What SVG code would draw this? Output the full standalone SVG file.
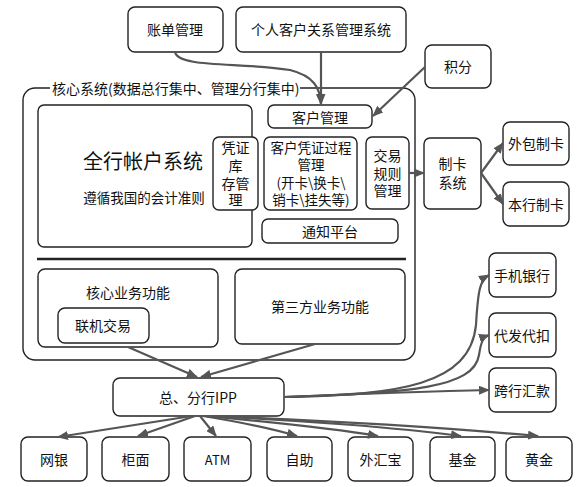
<svg xmlns="http://www.w3.org/2000/svg" width="587" height="487" viewBox="0 0 587 487">
<style>
.b{fill:#fff;stroke:#222;stroke-width:1.4}
.t{font-family:"Noto Sans CJK SC","Noto Sans",sans-serif;font-size:14px;fill:#111;text-anchor:middle;dominant-baseline:central}
.c{fill:none;stroke:#555;stroke-width:2.2;marker-end:url(#ah)}
</style>
<defs>
<marker id="ah" markerUnits="userSpaceOnUse" markerWidth="11" markerHeight="9" refX="10" refY="4.5" orient="auto">
<path d="M0,0 L11,4.5 L0,9 z" fill="#555"/>
</marker>
</defs>
<rect width="587" height="487" fill="#fff"/>

<g id="core">
<rect class="b" x="23" y="88" width="392" height="272" rx="12"/>
<rect x="50" y="80" width="250" height="16" fill="#fff"/>
<text class="t" x="52" y="88" style="text-anchor:start">核心系统(数据总行集中、管理分行集中)</text>
<line x1="37" y1="259" x2="406" y2="259" stroke="#222" stroke-width="2.6"/>
</g>

<g id="zhangdan"><rect class="b" x="128" y="7" width="95" height="45" rx="7"/><text class="t" x="175" y="29">账单管理</text></g>
<g id="crm"><rect class="b" x="236" y="7" width="170" height="45" rx="7"/><text class="t" x="321" y="29">个人客户关系管理系统</text></g>
<g id="jifen"><rect class="b" x="425" y="45" width="66" height="43" rx="7"/><text class="t" x="458" y="66">积分</text></g>

<g id="quanhang"><rect class="b" x="38" y="105" width="214" height="142" rx="6"/>
<text class="t" x="143" y="160" style="font-size:20px">全行帐户系统</text>
<text class="t" x="144" y="197" style="font-size:13.5px">遵循我国的会计准则</text></g>

<g id="kehuguanli"><rect class="b" x="268" y="105" width="104" height="23" rx="6"/><text class="t" x="320" y="116.5">客户管理</text></g>

<g id="pingzheng"><rect class="b" x="213" y="137" width="45" height="73" rx="6"/>
<text class="t" x="235.5" y="147">凭证</text><text class="t" x="235.5" y="165">库</text><text class="t" x="235.5" y="183">存管</text><text class="t" x="235.5" y="199">理</text></g>

<g id="guocheng"><rect class="b" x="264" y="137" width="93" height="73" rx="6"/>
<text class="t" x="311" y="147" style="font-size:13.5px">客户凭证过程</text><text class="t" x="311" y="164" style="font-size:13.5px">管理</text><text class="t" x="311" y="182" style="font-size:13.5px">(开卡\换卡\</text><text class="t" x="311" y="199" style="font-size:13.5px">销卡\挂失等)</text></g>

<g id="jiaoyi"><rect class="b" x="366" y="137" width="43" height="72" rx="6"/>
<text class="t" x="387.5" y="155">交易</text><text class="t" x="387.5" y="173">规则</text><text class="t" x="387.5" y="190">管理</text></g>

<g id="tongzhi"><rect class="b" x="262" y="219" width="136" height="24" rx="6"/><text class="t" x="330" y="231">通知平台</text></g>

<g id="zhika"><rect class="b" x="424" y="138" width="57" height="71" rx="6"/>
<text class="t" x="452.5" y="163">制卡</text><text class="t" x="452.5" y="182">系统</text></g>
<g id="waibao"><rect class="b" x="503" y="122" width="66" height="43" rx="7"/><text class="t" x="536" y="143">外包制卡</text></g>
<g id="benhang"><rect class="b" x="503" y="182" width="66" height="44" rx="7"/><text class="t" x="536" y="204">本行制卡</text></g>

<g id="hexin"><rect class="b" x="38" y="269" width="180" height="78" rx="7"/><text class="t" x="128" y="292">核心业务功能</text></g>
<g id="lianji"><rect class="b" x="58" y="308" width="91" height="35" rx="7"/><text class="t" x="103" y="325">联机交易</text></g>
<g id="disanfang"><rect class="b" x="235" y="269" width="170" height="75" rx="7"/><text class="t" x="320" y="306">第三方业务功能</text></g>

<g id="ipp"><rect class="b" x="113" y="378" width="171" height="38" rx="7"/><text class="t" x="198" y="397">总、分行IPP</text></g>

<g id="shouji"><rect class="b" x="489" y="253" width="67" height="44" rx="7"/><text class="t" x="522" y="275">手机银行</text></g>
<g id="daifa"><rect class="b" x="489" y="313" width="67" height="44" rx="7"/><text class="t" x="522" y="335">代发代扣</text></g>
<g id="kuahang"><rect class="b" x="489" y="368" width="67" height="44" rx="7"/><text class="t" x="522" y="390">跨行汇款</text></g>

<g id="wangyin"><rect class="b" x="21" y="437" width="66" height="44" rx="7"/><text class="t" x="54" y="459">网银</text></g>
<g id="guimian"><rect class="b" x="102" y="437" width="67" height="44" rx="7"/><text class="t" x="135.5" y="459">柜面</text></g>
<g id="atm"><rect class="b" x="184" y="437" width="67" height="44" rx="7"/><text class="t" x="217.5" y="459" style="font-size:13px">ATM</text></g>
<g id="zizhu"><rect class="b" x="267" y="437" width="65" height="44" rx="7"/><text class="t" x="299.5" y="459">自助</text></g>
<g id="waihui"><rect class="b" x="348" y="437" width="65" height="44" rx="7"/><text class="t" x="380.5" y="459">外汇宝</text></g>
<g id="jijin"><rect class="b" x="430" y="437" width="65" height="44" rx="7"/><text class="t" x="462.5" y="459">基金</text></g>
<g id="huangjin"><rect class="b" x="506" y="437" width="66" height="44" rx="7"/><text class="t" x="539" y="459">黄金</text></g>

<g id="connectors">
<path class="c" d="M175,52 C178,68 240,62 290,70 C314,76 320,88 321,104"/>
<path class="c" d="M321,52 L321,104"/>
<path class="c" d="M425,67 L373,116"/>
<path class="c" d="M409,173 L424,173"/>
<path class="c" d="M481,173 L503,143"/>
<path class="c" d="M481,173 L503,204"/>
<path class="c" d="M128,347 L197,377"/>
<path class="c" d="M315,344 L201,377"/>
<path class="c" d="M284,397 C400,395 470,385 476,325 C478,290 480,280 489,275"/>
<path class="c" d="M284,397 C410,393 474,388 479,355 C481,342 483,337 489,335"/>
<path class="c" d="M284,397 C380,393 440,391 489,390"/>
<path class="c" d="M192,416 L58,437"/>
<path class="c" d="M195,416 L138,436"/>
<path class="c" d="M200,416 L216,436"/>
<path class="c" d="M203,416 C240,422 270,428 297,436"/>
<path class="c" d="M205,416 C270,422 330,428 378,436"/>
<path class="c" d="M206,416 C300,420 400,428 461,436"/>
<path class="c" d="M207,416 C320,420 450,428 538,436"/>
</g>
</svg>
